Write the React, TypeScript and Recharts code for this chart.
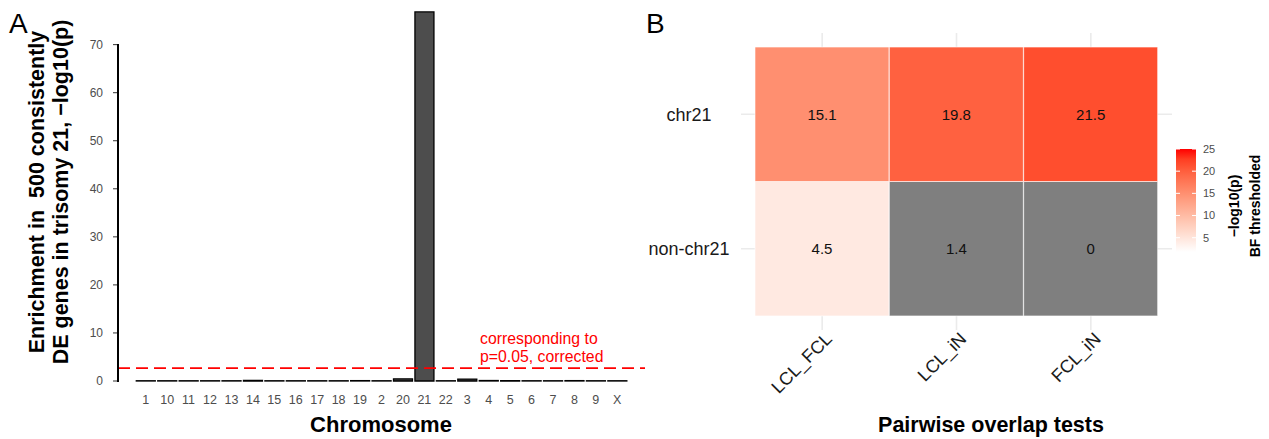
import React from 'react';
import {
  BarChart,
  Bar,
  XAxis,
  YAxis,
  Cell,
  CartesianGrid,
  LabelList,
  ReferenceLine,
  ReferenceDot,
} from 'recharts';

// Panel A: enrichment per chromosome, -log10(p)
const chromosomes = ['1', '10', '11', '12', '13', '14', '15', '16', '17', '18', '19', '2', '20', '21', '22', '3', '4', '5', '6', '7', '8', '9', 'X'];
const enrichment = [0.05, 0.05, 0.05, 0.05, 0.05, 0.15, 0.05, 0.05, 0.05, 0.05, 0.08, 0.05, 0.45, 76.8, 0.05, 0.4, 0.1, 0.05, 0.05, 0.05, 0.08, 0.05, 0.05];
const yTicksA = [0, 10, 20, 30, 40, 50, 60, 70];
const cutoffA = 2.66; // -log10(0.05 / 23)

// Panel B: pairwise overlap heatmap
const tests = ['LCL_FCL', 'LCL_iN', 'FCL_iN'];
const rowNames = ['non-chr21', 'chr21']; // bottom to top
const chr21Vals = [15.1, 19.8, 21.5];
const nonChr21Vals = [4.5, 1.4, 0];
const fillLimits = [1.78, 25];
const legendTicks = [5, 10, 15, 20, 25];

const FONT = '"Liberation Sans", Arial, Helvetica, sans-serif';

const dataA = chromosomes.map((chr, i) => ({ chr, value: enrichment[i] }));
const dataB = tests.map((test, i) => ({
  test,
  lower: 1,
  upper: 1,
  lowerVal: nonChr21Vals[i],
  upperVal: chr21Vals[i],
}));

// white -> red gradient interpolated in Lab, like scale_fill_gradient
function labToHex(L: number, a: number, b: number) {
  const fy = (L + 16) / 116;
  const fx = fy + a / 500;
  const fz = fy - b / 200;
  const inv = (t: number) => (t ** 3 > 0.008856 ? t ** 3 : (t - 16 / 116) / 7.787);
  const X = 0.95047 * inv(fx);
  const Y = inv(fy);
  const Z = 1.08883 * inv(fz);
  const lin = [
    3.2406 * X - 1.5372 * Y - 0.4986 * Z,
    -0.9689 * X + 1.8758 * Y + 0.0415 * Z,
    0.0557 * X - 0.204 * Y + 1.057 * Z,
  ];
  return (
    '#' +
    lin
      .map((c) => {
        const v = c <= 0.0031308 ? 12.92 * c : 1.055 * Math.pow(c, 1 / 2.4) - 0.055;
        return Math.round(Math.min(1, Math.max(0, v)) * 255).toString(16).padStart(2, '0');
      })
      .join('')
  );
}

function gradColor(t: number) {
  return labToHex(100 + (53.24 - 100) * t, 80.09 * t, 67.2 * t);
}

function fillFor(v: number) {
  const [lo, hi] = fillLimits;
  if (v < lo || v > hi) return '#7f7f7f';
  return gradColor((v - lo) / (hi - lo));
}

const CutoffNote = (props: any) => {
  const { viewBox } = props;
  const x = viewBox.x + viewBox.width / 2;
  const y = viewBox.y + viewBox.height / 2;
  return (
    <text x={x} y={y} fill="#ff0000" fontSize={15.8} textAnchor="start">
      <tspan x={x} dy={0}>corresponding to</tspan>
      <tspan x={x} dy={18}>p=0.05, corrected</tspan>
    </text>
  );
};

const CellValue = (props: any) => {
  const { x, y, width, height, value } = props;
  return (
    <text x={x + width / 2} y={y + height / 2} dy="0.35em" textAnchor="middle" fontSize={15} fill="#111">
      {value}
    </text>
  );
};

const RowTick = (props: any) => {
  const { x, y, payload } = props;
  return (
    <text x={x - 52} y={y} dy="0.35em" textAnchor="middle" fontSize={18} fill="#1a1a1a">
      {rowNames[Math.floor(payload.value)]}
    </text>
  );
};

const TestTick = (props: any) => {
  const { x, y, payload } = props;
  const ax = x + 11;
  const ay = y + 10;
  return (
    <text x={ax} y={ay} transform={`rotate(-45 ${ax} ${ay})`} textAnchor="end" fontSize={18} fill="#1a1a1a">
      {payload.value}
    </text>
  );
};

// colour bar position (legend only)
const barTop = 149;
const barBottom = 252;
const legendY = (v: number) => barBottom - ((v - fillLimits[0]) / (fillLimits[1] - fillLimits[0])) * (barBottom - barTop);

export default function App() {
  const gradStops = Array.from({ length: 11 }, (_, i) => i / 10);
  return (
    <div style={{ position: 'relative', width: 1269, height: 439, background: '#fff', fontFamily: FONT }}>
      <style>{'body{margin:0}'}</style>

      <div style={{ position: 'absolute', left: 0, top: 0 }}>
        <BarChart width={660} height={439} data={dataA} margin={{ top: 11, right: 15, bottom: 28, left: 0 }} barCategoryGap="6%">
          <XAxis
            dataKey="chr"
            interval={0}
            axisLine={false}
            tickLine={false}
            tickSize={0}
            tickMargin={14}
            height={30}
            padding={{ left: 17, right: 17 }}
            tick={{ fill: '#4d4d4d', fontSize: 12.5 }}
          />
          {/* plain 0..1 axis across the panel, for the cutoff line and its note */}
          <XAxis xAxisId="num" dataKey="value" type="number" domain={[0, 1]} allowDataOverflow hide />
          <YAxis
            domain={[0, 77]}
            ticks={yTicksA}
            width={118}
            axisLine={false}
            tickSize={5}
            tickMargin={10}
            tickLine={{ stroke: '#333' }}
            tick={{ fill: '#4d4d4d', fontSize: 12 }}
          />
          <Bar dataKey="value" fill="#4d4d4d" stroke="#000" strokeWidth={1.3} isAnimationActive={false} />
          <ReferenceLine xAxisId="num" y={cutoffA} stroke="#ff0000" strokeDasharray="12 6" strokeWidth={1.7} />
          <ReferenceDot xAxisId="num" x={0.687} y={7.7} r={1} fill="none" stroke="none" label={<CutoffNote />} />
        </BarChart>
      </div>

      <div style={{ position: 'absolute', left: 640, top: 0 }}>
        <BarChart width={629} height={439} data={dataB} margin={{ top: 33, right: 97, bottom: 9, left: 0 }} barCategoryGap={0}>
          <CartesianGrid stroke="#ebebeb" strokeWidth={1.6} syncWithTicks />
          <XAxis
            dataKey="test"
            interval={0}
            axisLine={false}
            tickLine={false}
            tickSize={0}
            tickMargin={0}
            height={100}
            padding={{ left: 14, right: 14 }}
            tick={<TestTick />}
          />
          <YAxis
            type="number"
            domain={[-0.1045, 2.1045]}
            ticks={[0.5, 1.5]}
            width={101}
            axisLine={false}
            tickLine={false}
            tickSize={0}
            tickMargin={0}
            tick={<RowTick />}
          />
          <Bar dataKey="lower" stackId="tiles" stroke="#ffffff" strokeWidth={0.6} isAnimationActive={false}>
            {nonChr21Vals.map((v, i) => (
              <Cell key={i} fill={fillFor(v)} />
            ))}
            <LabelList dataKey="lowerVal" content={<CellValue />} />
          </Bar>
          <Bar dataKey="upper" stackId="tiles" stroke="#ffffff" strokeWidth={0.6} isAnimationActive={false}>
            {chr21Vals.map((v, i) => (
              <Cell key={i} fill={fillFor(v)} />
            ))}
            <LabelList dataKey="upperVal" content={<CellValue />} />
          </Bar>
        </BarChart>
      </div>

      <svg width={1269} height={439} style={{ position: 'absolute', left: 0, top: 0, pointerEvents: 'none' }} fontFamily={FONT}>
        <defs>
          <linearGradient id="fillbar" x1="0" y1="1" x2="0" y2="0">
            {gradStops.map((t) => (
              <stop key={t} offset={t} stopColor={gradColor(t)} />
            ))}
          </linearGradient>
        </defs>

        <text x={9} y={33} fontSize={28} fill="#000">A</text>
        <text x={646} y={33} fontSize={28} fill="#000">B</text>

        {/* panel A y axis line, capped at the 70 tick as in the original */}
        <rect x={117} y={44} width={2} height={338} fill="#000" />

        {/* panel A axis titles */}
        <text transform="translate(44 192) rotate(-90)" textAnchor="middle" fontSize={21.5} fontWeight="bold" style={{ whiteSpace: 'pre' }}>
          {'Enrichment in  500 consistently'}
        </text>
        <text transform="translate(68 192) rotate(-90)" textAnchor="middle" fontSize={21.5} fontWeight="bold">
          {'DE genes in trisomy 21, \u2212log10(p)'}
        </text>
        <text x={381} y={432} textAnchor="middle" fontSize={22} fontWeight="bold">Chromosome</text>

        {/* panel B axis title */}
        <text x={991} y={432} textAnchor="middle" fontSize={21.5} fontWeight="bold">Pairwise overlap tests</text>

        {/* colour bar legend */}
        <rect x={1176} y={barTop} width={20} height={barBottom - barTop} fill="url(#fillbar)" />
        {legendTicks.map((v) => (
          <g key={v}>
            <line x1={1176} x2={1180} y1={legendY(v)} y2={legendY(v)} stroke="#fff" strokeWidth={1} />
            <line x1={1192} x2={1196} y1={legendY(v)} y2={legendY(v)} stroke="#fff" strokeWidth={1} />
            <text x={1203} y={legendY(v)} dy="0.35em" fontSize={11} fill="#4d4d4d">{v}</text>
          </g>
        ))}
        <text transform="translate(1239 206) rotate(-90)" textAnchor="middle" fontSize={14} fontWeight="bold">
          {'\u2212log10(p)'}
        </text>
        <text transform="translate(1260 206) rotate(-90)" textAnchor="middle" fontSize={14} fontWeight="bold">
          BF thresholded
        </text>
      </svg>
    </div>
  );
}
